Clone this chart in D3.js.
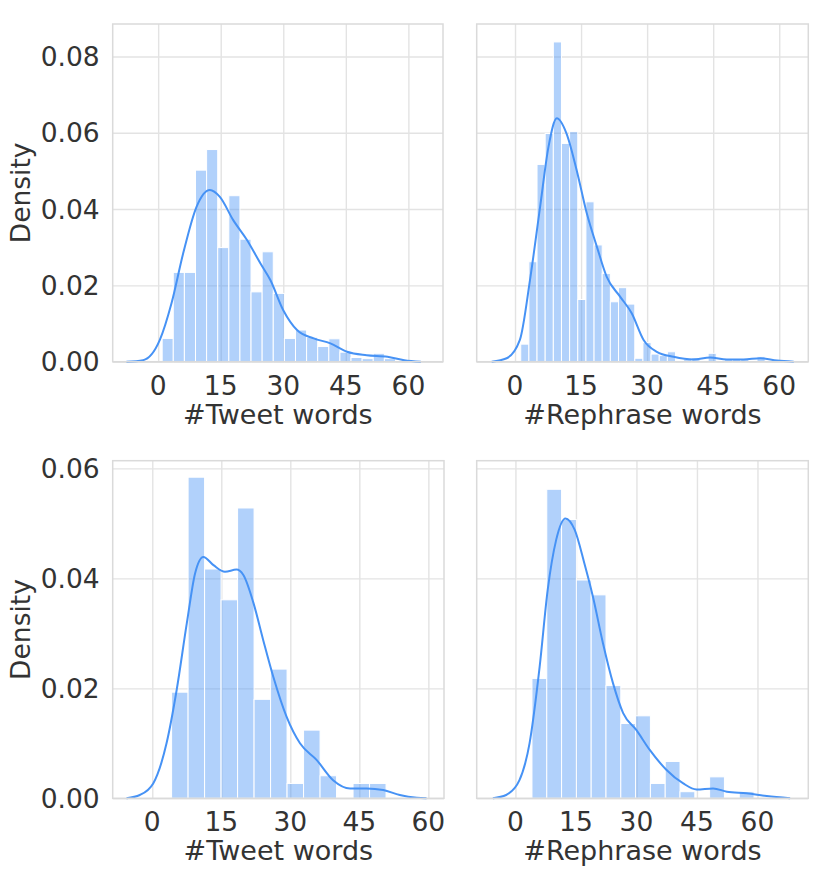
<!DOCTYPE html>
<html>
<head>
<meta charset="utf-8">
<script src="https://cdn.jsdelivr.net/npm/d3@7"></script>
<style>
  body { margin: 0; background: #fff; }
  svg text { font-family: "DejaVu Sans", sans-serif; fill: #333333; }
</style>
</head>
<body>
<svg id="chart" width="830" height="883"></svg>
<script>
// tick labels
var xTicks = [0, 15, 30, 45, 60];
var yTicksTop = [0, 0.02, 0.04, 0.06, 0.08];
var yTicksBottom = [0, 0.02, 0.04, 0.06];

// axis extents
var xDomTweetTop = [-10.9, 68.3];
var xDomRephraseTop = [-8.7, 66.6];
var xDomTweetBottom = [-8.6, 63.4];
var xDomRephraseBottom = [-9.6, 72.6];
var yDomTop = [0, 0.0885];
var yDomBottom = [0, 0.0614];

// histogram bins: first edge, bin width, densities
var tweetTopStart = 0.96, tweetTopWidth = 2.664;
var tweetTopDensity = [0.0061, 0.0234, 0.0234, 0.0502, 0.0556, 0.0299, 0.0435, 0.0321, 0.0183, 0.0288,
  0.0179, 0.0061, 0.0083, 0.0064, 0.0040, 0.0060, 0.0025, 0.0011, 0.0008, 0.0022, 0.0008];

var rephraseTopStart = 1.3, rephraseTopWidth = 1.85;
var rephraseTopDensity = [0.0046, 0.0262, 0.0517, 0.0598, 0.0838, 0.0572, 0.0603, 0.0163, 0.0419, 0.0306,
  0.0231, 0.0157, 0.0194, 0.0151, 0.0009, 0.0050, 0.0020, 0.0016, 0.0026, 0,
  0.0007, 0.0011, 0, 0.0022, 0, 0.0006, 0.0006, 0.0006, 0, 0.0013];

var tweetBottomStart = 4.2, tweetBottomWidth = 3.585;
var tweetBottomDensity = [0.0193, 0.0584, 0.0417, 0.0361, 0.0528, 0.0180, 0.0235, 0.0027, 0.0124, 0.0041,
  0, 0.0027, 0.0027];

var rephraseBottomStart = 4.1, rephraseBottomWidth = 3.67;
var rephraseBottomDensity = [0.0218, 0.0562, 0.0507, 0.0397, 0.0370, 0.0205, 0.0136, 0.0150, 0.0027, 0.0067,
  0.0012, 0, 0.0039, 0, 0.0012];

// kde curves, [x, density]
var tweetTopKde = [[-7.6, 0], [-3.6, 0.0004], [0.4, 0.0057], [3.2, 0.0153], [6, 0.0284], [9.2, 0.0406],
  [12.4, 0.0450], [14.8, 0.0432], [18, 0.0371], [21.3, 0.0319], [24.5, 0.0258], [26.9, 0.0214],
  [30, 0.0135], [33.3, 0.0083], [37.3, 0.0061], [41.3, 0.0048], [45.3, 0.0026], [50, 0.0017],
  [55, 0.0013], [59, 0.0004], [63, 0]];
var rephraseTopKde = [[-5.3, 0], [-1.9, 0.0009], [1.1, 0.0057], [3.4, 0.0214], [5.7, 0.0406], [7.6, 0.0563],
  [9.5, 0.0638], [11.7, 0.0598], [14, 0.0502], [16.3, 0.0389], [18.6, 0.0301], [20.8, 0.0223],
  [23.9, 0.0170], [26.5, 0.0127], [29.2, 0.0057], [32.2, 0.0026], [36, 0.0013], [40.5, 0.0006],
  [44.3, 0.0011], [48.1, 0.0006], [51.9, 0.0006], [55.7, 0.0009], [59.5, 0.0003], [63.3, 0]];
var tweetBottomKde = [[-5.6, 0], [-2.7, 0.0006], [0.2, 0.0027], [3.1, 0.0100], [5.3, 0.0197], [7.5, 0.0318],
  [9.3, 0.0409], [11.1, 0.0439], [13.3, 0.0424], [15.8, 0.0412], [18.3, 0.0416], [19.8, 0.0406],
  [22, 0.0355], [24.1, 0.0288], [26.3, 0.0221], [29.2, 0.0148], [32.1, 0.0100], [35.7, 0.0070],
  [39.3, 0.0033], [43, 0.0018], [46.6, 0.0018], [50.2, 0.0015], [53.8, 0.0006], [57.5, 0.0001], [59.6, 0]];
var rephraseBottomKde = [[-5.6, 0], [-2.3, 0.0006], [1, 0.0033], [3.5, 0.0100], [6, 0.0239], [8, 0.0379],
  [10.1, 0.0470], [12.4, 0.0509], [14.7, 0.0488], [17.1, 0.0427], [19.2, 0.0367], [21.7, 0.0282],
  [24.2, 0.0209], [26.7, 0.0155], [30, 0.0124], [33.3, 0.0088], [37.4, 0.0052], [41.6, 0.0027],
  [44.9, 0.0016], [49, 0.0018], [52.4, 0.0012], [57.3, 0.0009], [62.3, 0.0004], [68.1, 0]];

var blue = '#4692f5';
var svg = d3.select('#chart');

var panels = [
  {box: [112.7, 24, 443, 361.7], xDom: xDomTweetTop, yDom: yDomTop, yTicks: yTicksTop,
   start: tweetTopStart, width: tweetTopWidth, dens: tweetTopDensity, kde: tweetTopKde,
   label: '#Tweet words', showY: true},
  {box: [476.7, 24, 808.3, 361.7], xDom: xDomRephraseTop, yDom: yDomTop, yTicks: yTicksTop,
   start: rephraseTopStart, width: rephraseTopWidth, dens: rephraseTopDensity, kde: rephraseTopKde,
   label: '#Rephrase words', showY: false},
  {box: [112.7, 460.7, 444, 798.3], xDom: xDomTweetBottom, yDom: yDomBottom, yTicks: yTicksBottom,
   start: tweetBottomStart, width: tweetBottomWidth, dens: tweetBottomDensity, kde: tweetBottomKde,
   label: '#Tweet words', showY: true},
  {box: [476.7, 460.7, 808.3, 798.3], xDom: xDomRephraseBottom, yDom: yDomBottom, yTicks: yTicksBottom,
   start: rephraseBottomStart, width: rephraseBottomWidth, dens: rephraseBottomDensity, kde: rephraseBottomKde,
   label: '#Rephrase words', showY: false}
];

panels.forEach(function (p) {
  var x0 = p.box[0], y0 = p.box[1], x1 = p.box[2], y1 = p.box[3];
  var x = d3.scaleLinear().domain(p.xDom).range([x0, x1]);
  var y = d3.scaleLinear().domain(p.yDom).range([y1, y0]);
  var g = svg.append('g');

  // grid via axes with full-length ticks
  g.append('g')
    .attr('transform', 'translate(0,' + y1 + ')')
    .call(d3.axisBottom(x).tickValues(xTicks).tickSize(-(y1 - y0)).tickFormat(''))
    .call(function (a) {
      a.select('.domain').remove();
      a.selectAll('line').attr('stroke', '#e3e3e3').attr('stroke-width', 1.4);
    });
  g.append('g')
    .attr('transform', 'translate(' + x0 + ',0)')
    .call(d3.axisLeft(y).tickValues(p.yTicks).tickSize(-(x1 - x0)).tickFormat(''))
    .call(function (a) {
      a.select('.domain').remove();
      a.selectAll('line').attr('stroke', '#e3e3e3').attr('stroke-width', 1.4);
    });

  // histogram bars
  var bins = p.dens.map(function (d, i) {
    return {lo: p.start + i * p.width, hi: p.start + (i + 1) * p.width, v: d};
  }).filter(function (b) { return b.v > 0; });
  g.selectAll('rect.bar').data(bins).enter().append('rect')
    .attr('class', 'bar')
    .attr('x', function (b) { return x(b.lo); })
    .attr('width', function (b) { return x(b.hi) - x(b.lo); })
    .attr('y', function (b) { return y(b.v); })
    .attr('height', function (b) { return y(0) - y(b.v); })
    .attr('fill', blue).attr('fill-opacity', 0.42)
    .attr('stroke', '#fff').attr('stroke-width', 1);

  // kde line
  var line = d3.line()
    .x(function (d) { return x(d[0]); })
    .y(function (d) { return y(d[1]); })
    .curve(d3.curveMonotoneX);
  g.append('path').datum(p.kde)
    .attr('d', line)
    .attr('fill', 'none').attr('stroke', blue).attr('stroke-width', 2);

  // frame
  g.append('rect')
    .attr('x', x0).attr('y', y0).attr('width', x1 - x0).attr('height', y1 - y0)
    .attr('fill', 'none').attr('stroke', '#dadada').attr('stroke-width', 1.5);

  // tick labels
  g.selectAll('text.xt').data(xTicks).enter().append('text')
    .attr('class', 'xt')
    .attr('x', function (d) { return x(d); })
    .attr('y', y1 + 33)
    .attr('text-anchor', 'middle')
    .attr('font-size', 26.5)
    .text(function (d) { return d; });
  if (p.showY) {
    g.selectAll('text.yt').data(p.yTicks).enter().append('text')
      .attr('class', 'yt')
      .attr('x', x0 - 13)
      .attr('y', function (d) { return y(d); })
      .attr('dy', '0.36em')
      .attr('text-anchor', 'end')
      .attr('font-size', 26.5)
      .text(function (d) { return d3.format('.2f')(d); });
    g.append('text')
      .attr('transform', 'translate(30,' + ((y0 + y1) / 2) + ') rotate(-90)')
      .attr('text-anchor', 'middle')
      .attr('font-size', 26.5)
      .text('Density');
  }
  g.append('text')
    .attr('x', (x0 + x1) / 2)
    .attr('y', y1 + 62)
    .attr('text-anchor', 'middle')
    .attr('font-size', 27)
    .text(p.label);
});
</script>
</body>
</html>
